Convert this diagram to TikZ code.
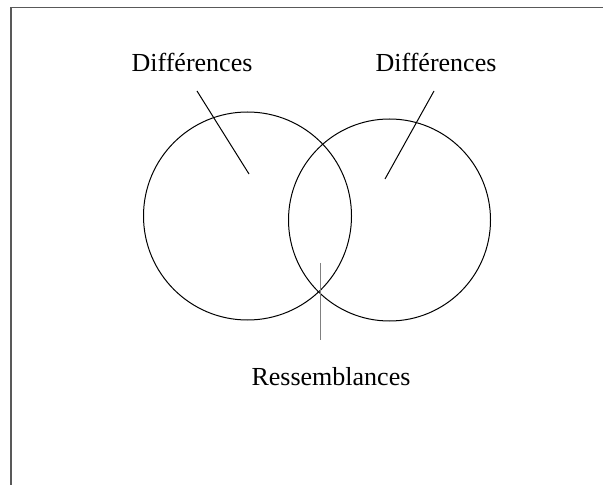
\documentclass[tikz,border=0pt]{standalone}
\usepackage{fontspec}
\setmainfont{Liberation Serif}
\begin{document}
\begin{tikzpicture}[x=0.5pt,y=-0.5pt,line width=0.5pt]
\tikzset{lbl/.style={font=\fontsize{13}{15}\selectfont, inner sep=0pt},
  ensemble/.style={circle, draw, inner sep=0pt}}
\useasboundingbox (0,0) rectangle (603,485);
% cadre
\draw[gray!70!black,line width=0.75pt] (11,485) -- (11,7.5) -- (603,7.5);
% les deux ensembles
\node[ensemble,minimum size=104pt] (gauche) at (247.5,216) {};
\node[ensemble,minimum size=101pt] (droite) at (389.5,220) {};
% textes
\node[lbl] (diffg) at (192,62) {Différences};
\node[lbl] (diffd) at (436,62) {Différences};
\node[lbl] (ress) at (331,377) {Ressemblances};
% traits
\coordinate (pg1) at (197,91);  \coordinate (pg2) at (249,174);
\coordinate (pd1) at (434,91);  \coordinate (pd2) at (385,179);
\coordinate (pr1) at (320,263); \coordinate (pr2) at (320,340);
\draw (pg1) -- (pg2);
\draw (pd1) -- (pd2);
\draw[gray] (pr1) -- (pr2);
\end{tikzpicture}
\end{document}
